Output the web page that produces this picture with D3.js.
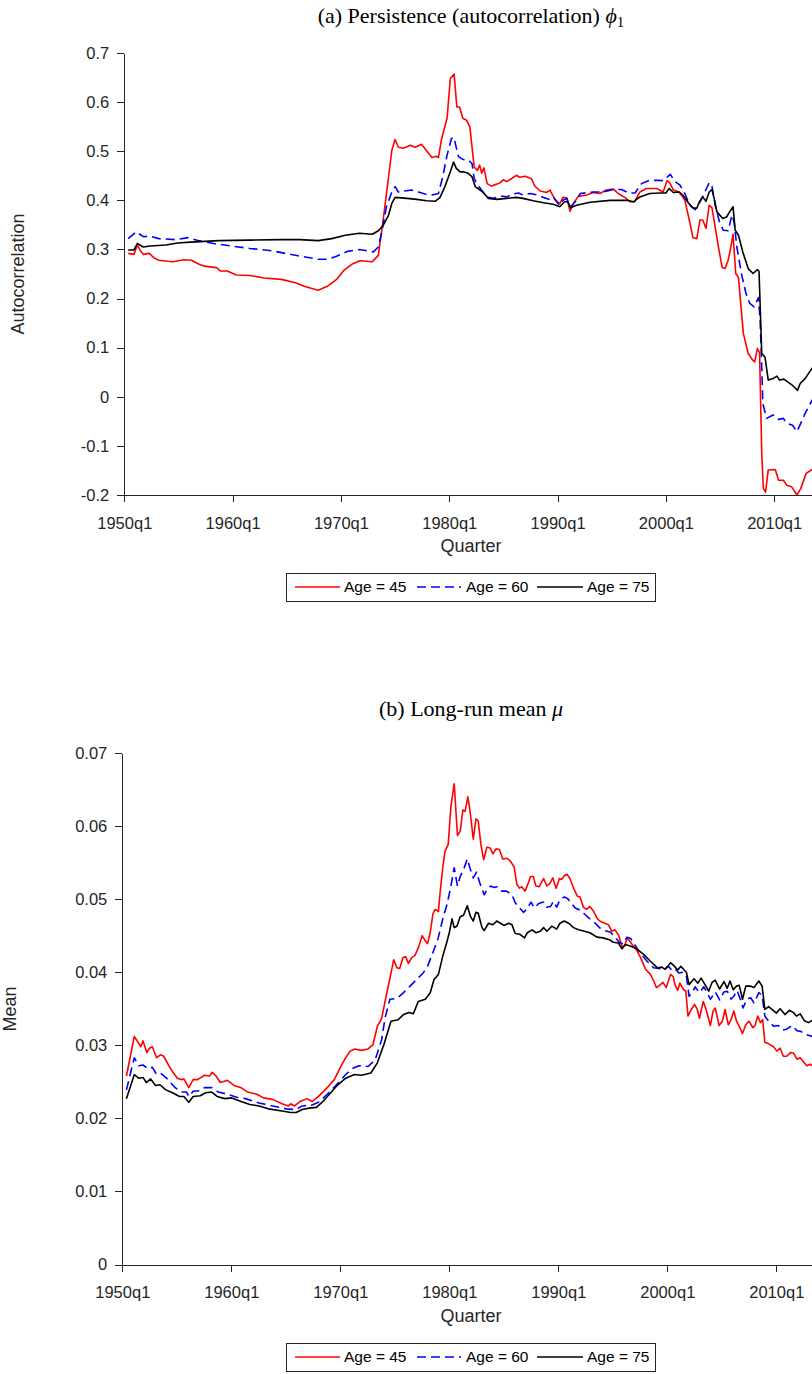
<!DOCTYPE html>
<html><head><meta charset="utf-8">
<script src="https://cdn.jsdelivr.net/npm/d3@7"></script>
<style>body{margin:0;background:#fff}svg{display:block}</style>
</head><body><svg id="chart" width="812" height="1374"></svg>
<script>
// ---------- DATA ----------
const xTickYears = [1950,1960,1970,1980,1990,2000,2010];
const xTickLabels = ["1950q1","1960q1","1970q1","1980q1","1990q1","2000q1","2010q1"];
const phiTicks = [-0.2,-0.1,0,0.1,0.2,0.3,0.4,0.5,0.6,0.7];
const phiTickLabels = ["-0.2","-0.1","0","0.1","0.2","0.3","0.4","0.5","0.6","0.7"];
const muTicks = [0,0.01,0.02,0.03,0.04,0.05,0.06,0.07];
const muTickLabels = ["0","0.01","0.02","0.03","0.04","0.05","0.06","0.07"];
const seriesNames = ["Age = 45","Age = 60","Age = 75"];

// [quarter as decimal year, value]
const phiAge45 = [[1950.36,0.292],[1950.9,0.290],[1951.2,0.309],[1951.5,0.297],[1951.75,0.290],[1952.3,0.292],[1952.8,0.282],[1953.2,0.278],[1954.0,0.276],[1954.5,0.275],[1955.5,0.279],[1956.2,0.278],[1956.8,0.271],[1957.4,0.266],[1958.5,0.263],[1958.9,0.256],[1959.5,0.256],[1960.35,0.248],[1961.6,0.247],[1962.9,0.242],[1964.5,0.239],[1965.8,0.232],[1966.6,0.225],[1967.9,0.217],[1968.75,0.225],[1969.6,0.239],[1970.3,0.258],[1971.1,0.271],[1971.75,0.277],[1972.9,0.275],[1973.45,0.288],[1973.9,0.360],[1974.4,0.448],[1974.7,0.502],[1975.0,0.524],[1975.3,0.508],[1975.75,0.506],[1976.4,0.512],[1976.85,0.508],[1977.45,0.514],[1977.9,0.501],[1978.4,0.487],[1978.8,0.490],[1979.0,0.487],[1979.3,0.526],[1979.8,0.567],[1980.1,0.648],[1980.45,0.657],[1980.7,0.590],[1980.95,0.590],[1981.25,0.567],[1981.6,0.563],[1981.9,0.550],[1982.3,0.468],[1982.6,0.461],[1982.8,0.472],[1983.0,0.455],[1983.2,0.466],[1983.5,0.434],[1983.9,0.429],[1984.4,0.433],[1984.7,0.436],[1985.0,0.442],[1985.3,0.438],[1985.8,0.445],[1986.2,0.451],[1986.5,0.447],[1987.0,0.449],[1987.6,0.444],[1987.9,0.429],[1988.4,0.419],[1989.0,0.416],[1989.3,0.421],[1989.75,0.402],[1990.2,0.393],[1990.5,0.406],[1990.85,0.405],[1991.15,0.378],[1991.45,0.393],[1991.9,0.408],[1992.7,0.411],[1993.3,0.416],[1993.9,0.414],[1994.5,0.421],[1995.15,0.423],[1995.6,0.414],[1996.2,0.406],[1996.7,0.397],[1997.1,0.397],[1997.6,0.417],[1998.2,0.424],[1999.15,0.424],[1999.75,0.417],[2000.1,0.440],[2000.35,0.436],[2000.7,0.421],[2001.2,0.417],[2001.45,0.410],[2001.75,0.400],[2002.1,0.366],[2002.5,0.324],[2002.85,0.322],[2003.15,0.360],[2003.4,0.360],[2003.7,0.343],[2004.0,0.390],[2004.25,0.385],[2004.55,0.346],[2004.85,0.305],[2005.2,0.263],[2005.45,0.261],[2005.75,0.278],[2006.0,0.305],[2006.2,0.331],[2006.45,0.251],[2006.7,0.243],[2007.15,0.129],[2007.6,0.088],[2008.0,0.075],[2008.2,0.071],[2008.45,0.098],[2008.65,0.090],[2008.85,-0.115],[2009.0,-0.187],[2009.2,-0.194],[2009.45,-0.149],[2010.1,-0.148],[2010.4,-0.170],[2010.85,-0.170],[2011.15,-0.180],[2011.6,-0.183],[2012.1,-0.200],[2012.45,-0.187],[2012.95,-0.156],[2013.5,-0.148],[2014.0,-0.140]];
const phiAge60 = [[1950.36,0.322],[1951.1,0.336],[1951.75,0.326],[1952.4,0.327],[1953.2,0.322],[1954.7,0.320],[1955.9,0.324],[1956.8,0.318],[1958.25,0.312],[1959.9,0.307],[1961.6,0.302],[1963.7,0.297],[1965.8,0.288],[1967.9,0.280],[1968.75,0.280],[1969.6,0.286],[1970.6,0.296],[1971.7,0.300],[1973.0,0.295],[1973.45,0.305],[1973.75,0.333],[1974.2,0.387],[1974.7,0.417],[1975.0,0.428],[1975.3,0.417],[1975.9,0.419],[1976.5,0.421],[1977.15,0.417],[1977.75,0.413],[1978.4,0.411],[1979.0,0.414],[1979.4,0.448],[1979.8,0.492],[1980.2,0.526],[1980.45,0.528],[1980.6,0.512],[1980.85,0.489],[1981.3,0.483],[1981.75,0.482],[1982.1,0.475],[1982.3,0.445],[1982.6,0.431],[1982.85,0.425],[1983.2,0.414],[1983.6,0.406],[1984.1,0.404],[1984.7,0.409],[1985.3,0.407],[1985.9,0.413],[1986.4,0.415],[1986.8,0.411],[1987.45,0.414],[1988.1,0.411],[1988.7,0.406],[1989.2,0.402],[1989.6,0.407],[1990.15,0.390],[1990.5,0.400],[1990.85,0.404],[1991.2,0.387],[1991.75,0.400],[1992.1,0.414],[1993.3,0.417],[1994.2,0.417],[1995.15,0.422],[1995.9,0.422],[1996.55,0.415],[1997.15,0.415],[1997.75,0.434],[1998.4,0.440],[1999.15,0.441],[1999.75,0.440],[2000.4,0.453],[2000.85,0.438],[2001.3,0.431],[2001.75,0.414],[2002.2,0.390],[2002.7,0.381],[2003.15,0.397],[2003.6,0.417],[2004.0,0.436],[2004.25,0.430],[2004.55,0.390],[2004.95,0.356],[2005.3,0.339],[2005.75,0.338],[2006.1,0.370],[2006.3,0.356],[2006.55,0.305],[2007.0,0.248],[2007.4,0.210],[2007.75,0.190],[2008.15,0.183],[2008.55,0.202],[2008.7,0.156],[2008.85,0.061],[2008.95,-0.014],[2009.3,-0.044],[2009.9,-0.037],[2010.4,-0.046],[2010.85,-0.044],[2011.15,-0.054],[2011.7,-0.058],[2012.1,-0.071],[2012.45,-0.054],[2012.85,-0.034],[2013.5,-0.007],[2014.0,0.002]];
const phiAge75 = [[1950.36,0.299],[1950.9,0.299],[1951.2,0.312],[1951.75,0.305],[1952.4,0.307],[1953.85,0.309],[1954.9,0.313],[1956.15,0.315],[1958.7,0.318],[1961.6,0.319],[1964.5,0.320],[1966.2,0.320],[1967.9,0.318],[1969.15,0.322],[1970.4,0.329],[1971.7,0.333],[1972.9,0.331],[1973.45,0.338],[1973.9,0.349],[1974.4,0.370],[1974.7,0.394],[1975.0,0.406],[1976.1,0.404],[1977.0,0.402],[1977.9,0.399],[1978.7,0.398],[1979.15,0.406],[1979.6,0.428],[1980.05,0.455],[1980.4,0.478],[1980.65,0.465],[1981.0,0.458],[1981.3,0.458],[1981.75,0.455],[1982.1,0.448],[1982.4,0.428],[1982.85,0.421],[1983.15,0.416],[1983.6,0.404],[1984.4,0.402],[1985.3,0.404],[1986.2,0.406],[1986.8,0.404],[1987.75,0.399],[1988.7,0.395],[1989.6,0.392],[1990.2,0.387],[1990.65,0.397],[1990.95,0.397],[1991.2,0.385],[1991.75,0.390],[1993.0,0.396],[1994.85,0.400],[1996.4,0.400],[1997.0,0.397],[1997.6,0.407],[1998.5,0.414],[1999.45,0.415],[2000.0,0.415],[2000.3,0.424],[2000.7,0.416],[2001.2,0.417],[2001.6,0.410],[2002.1,0.394],[2002.5,0.385],[2002.85,0.384],[2003.1,0.397],[2003.4,0.407],[2003.7,0.398],[2004.0,0.417],[2004.25,0.422],[2004.5,0.400],[2004.7,0.377],[2005.25,0.363],[2005.6,0.366],[2005.9,0.377],[2006.2,0.387],[2006.4,0.339],[2006.7,0.329],[2007.1,0.295],[2007.6,0.261],[2008.05,0.251],[2008.45,0.259],[2008.6,0.255],[2008.85,0.088],[2009.15,0.081],[2009.45,0.034],[2009.9,0.037],[2010.25,0.042],[2010.5,0.034],[2010.9,0.036],[2011.4,0.028],[2011.75,0.022],[2012.15,0.013],[2012.4,0.027],[2012.85,0.037],[2013.5,0.058],[2014.0,0.062]];

const muAge45 = [[1950.38,0.0258],[1951.1,0.0312],[1951.5,0.0303],[1951.7,0.0298],[1951.9,0.0306],[1952.25,0.0290],[1952.5,0.0296],[1952.75,0.0298],[1953.15,0.0283],[1953.5,0.0287],[1953.8,0.0285],[1954.2,0.0274],[1954.6,0.0264],[1955.05,0.0255],[1955.45,0.0253],[1955.65,0.0254],[1956.1,0.0242],[1956.5,0.0253],[1956.9,0.0253],[1957.55,0.0259],[1958.0,0.0258],[1958.25,0.0263],[1958.6,0.0258],[1959.0,0.0249],[1959.65,0.0252],[1960.25,0.0245],[1960.9,0.0242],[1961.5,0.0236],[1962.35,0.0233],[1962.95,0.0228],[1963.8,0.0226],[1964.65,0.0220],[1965.25,0.0217],[1965.45,0.0220],[1965.8,0.0217],[1966.3,0.0223],[1966.95,0.0227],[1967.4,0.0223],[1968.0,0.0230],[1968.8,0.0242],[1969.45,0.0253],[1970.05,0.0271],[1970.5,0.0283],[1970.9,0.0292],[1971.3,0.0295],[1971.95,0.0293],[1972.55,0.0295],[1973.0,0.0301],[1973.4,0.0326],[1973.8,0.0337],[1974.2,0.0367],[1974.5,0.0388],[1974.9,0.0417],[1975.2,0.0406],[1975.45,0.0405],[1975.75,0.0420],[1976.0,0.0421],[1976.25,0.0412],[1976.55,0.0420],[1976.85,0.0423],[1977.2,0.0435],[1977.5,0.0450],[1977.8,0.0443],[1978.0,0.0439],[1978.25,0.0454],[1978.5,0.0480],[1978.7,0.0486],[1979.0,0.0483],[1979.15,0.0508],[1979.4,0.0543],[1979.6,0.0565],[1979.9,0.0575],[1980.15,0.0627],[1980.45,0.0658],[1980.75,0.0587],[1981.0,0.0593],[1981.25,0.0622],[1981.45,0.0620],[1981.7,0.0640],[1981.9,0.0621],[1982.2,0.0582],[1982.45,0.0610],[1982.65,0.0607],[1982.9,0.0575],[1983.15,0.0554],[1983.45,0.0571],[1983.75,0.0570],[1984.0,0.0562],[1984.3,0.0569],[1984.6,0.0568],[1984.9,0.0555],[1985.3,0.0556],[1985.6,0.0552],[1985.95,0.0544],[1986.2,0.0520],[1986.45,0.0515],[1986.65,0.0517],[1986.95,0.0511],[1987.25,0.0522],[1987.45,0.0531],[1987.7,0.0531],[1987.95,0.0518],[1988.25,0.0517],[1988.65,0.0528],[1988.95,0.0518],[1989.2,0.0521],[1989.5,0.0529],[1989.8,0.0515],[1990.1,0.0528],[1990.3,0.0527],[1990.55,0.0532],[1990.8,0.0534],[1991.05,0.0529],[1991.4,0.0515],[1991.75,0.0504],[1992.0,0.0503],[1992.3,0.0489],[1992.6,0.0486],[1992.9,0.0490],[1993.25,0.0483],[1993.55,0.0474],[1993.8,0.0470],[1994.1,0.0468],[1994.6,0.0465],[1994.9,0.0456],[1995.2,0.0458],[1995.55,0.0450],[1995.85,0.0435],[1996.1,0.0436],[1996.3,0.0447],[1996.6,0.0442],[1996.9,0.0435],[1997.2,0.0430],[1997.55,0.0420],[1998.0,0.0404],[1998.45,0.0397],[1998.75,0.0388],[1999.0,0.0379],[1999.3,0.0382],[1999.6,0.0386],[1999.9,0.0379],[2000.3,0.0397],[2000.55,0.0394],[2000.7,0.0383],[2000.95,0.0375],[2001.15,0.0385],[2001.5,0.0376],[2001.7,0.0374],[2001.9,0.0340],[2002.2,0.0349],[2002.5,0.0356],[2002.75,0.0349],[2002.95,0.0337],[2003.3,0.0360],[2003.6,0.0347],[2003.95,0.0327],[2004.2,0.0347],[2004.4,0.0351],[2004.75,0.0327],[2005.05,0.0333],[2005.3,0.0349],[2005.6,0.0328],[2005.85,0.0335],[2006.1,0.0347],[2006.35,0.0333],[2006.6,0.0326],[2006.9,0.0316],[2007.2,0.0328],[2007.5,0.0333],[2007.85,0.0324],[2008.05,0.0327],[2008.3,0.0340],[2008.55,0.0331],[2008.75,0.0335],[2008.95,0.0304],[2009.3,0.0302],[2009.75,0.0298],[2010.05,0.0292],[2010.35,0.0296],[2010.65,0.0285],[2010.95,0.0285],[2011.3,0.0290],[2011.6,0.0289],[2011.9,0.0281],[2012.2,0.0283],[2012.45,0.0278],[2012.8,0.0272],[2013.1,0.0274],[2013.3,0.0272],[2014.0,0.0270]];
const muAge60 = [[1950.38,0.0239],[1951.1,0.0283],[1951.5,0.0272],[1951.9,0.0273],[1952.35,0.0268],[1952.75,0.0270],[1953.15,0.0260],[1953.6,0.0261],[1954.2,0.0253],[1954.85,0.0242],[1955.45,0.0236],[1955.9,0.0236],[1956.1,0.0230],[1956.5,0.0237],[1957.15,0.0238],[1957.55,0.0242],[1958.2,0.0242],[1958.8,0.0236],[1959.65,0.0233],[1960.5,0.0229],[1961.3,0.0227],[1962.55,0.0221],[1963.8,0.0217],[1965.05,0.0213],[1965.95,0.0212],[1966.5,0.0217],[1967.35,0.0218],[1968.0,0.0222],[1968.8,0.0233],[1969.65,0.0246],[1970.5,0.0260],[1971.1,0.0268],[1971.7,0.0272],[1972.55,0.0271],[1973.2,0.0280],[1973.8,0.0308],[1974.1,0.0337],[1974.55,0.0363],[1975.2,0.0364],[1975.8,0.0372],[1976.4,0.0381],[1977.0,0.0390],[1977.6,0.0399],[1978.0,0.0408],[1978.55,0.0429],[1978.95,0.0445],[1979.45,0.0476],[1979.8,0.0493],[1980.15,0.0518],[1980.45,0.0543],[1980.75,0.0518],[1981.0,0.0531],[1981.3,0.0540],[1981.65,0.0555],[1981.95,0.0540],[1982.2,0.0529],[1982.5,0.0537],[1982.8,0.0522],[1983.2,0.0506],[1983.45,0.0513],[1983.8,0.0518],[1984.1,0.0516],[1984.4,0.0517],[1984.8,0.0511],[1985.25,0.0511],[1985.75,0.0506],[1986.05,0.0495],[1986.45,0.0488],[1986.8,0.0482],[1987.1,0.0486],[1987.5,0.0496],[1987.8,0.0488],[1988.2,0.0494],[1988.65,0.0496],[1988.9,0.0489],[1989.3,0.0490],[1989.55,0.0497],[1989.85,0.0489],[1990.15,0.0499],[1990.55,0.0503],[1990.85,0.0501],[1991.15,0.0495],[1991.55,0.0488],[1992.0,0.0485],[1992.45,0.0479],[1992.9,0.0473],[1993.4,0.0467],[1993.85,0.0460],[1994.2,0.0457],[1994.75,0.0455],[1995.05,0.0451],[1995.2,0.0448],[1995.65,0.0440],[1995.95,0.0439],[1996.3,0.0448],[1996.65,0.0446],[1997.3,0.0431],[1997.65,0.0424],[1998.15,0.0415],[1998.75,0.0406],[1999.2,0.0405],[1999.65,0.0403],[2000.1,0.0408],[2000.4,0.0403],[2000.7,0.0405],[2001.05,0.0399],[2001.45,0.0400],[2001.75,0.0395],[2002.0,0.0367],[2002.35,0.0374],[2002.55,0.0380],[2002.95,0.0372],[2003.35,0.0380],[2003.65,0.0372],[2003.95,0.0363],[2004.4,0.0373],[2004.8,0.0362],[2005.2,0.0373],[2005.5,0.0374],[2005.85,0.0363],[2006.1,0.0367],[2006.4,0.0375],[2006.7,0.0363],[2006.95,0.0351],[2007.3,0.0363],[2007.65,0.0365],[2007.95,0.0358],[2008.4,0.0372],[2008.7,0.0368],[2008.95,0.0340],[2009.3,0.0333],[2009.75,0.0326],[2010.2,0.0327],[2010.6,0.0321],[2010.95,0.0322],[2011.45,0.0327],[2011.9,0.0320],[2012.25,0.0319],[2012.65,0.0315],[2013.3,0.0312],[2014.0,0.0310]];
const muAge75 = [[1950.38,0.0227],[1951.1,0.0260],[1951.5,0.0255],[1951.9,0.0256],[1952.2,0.0249],[1952.6,0.0254],[1953.05,0.0245],[1953.45,0.0246],[1954.0,0.0239],[1954.6,0.0235],[1955.25,0.0230],[1955.65,0.0230],[1956.1,0.0222],[1956.5,0.0230],[1957.15,0.0231],[1957.65,0.0235],[1958.2,0.0236],[1958.7,0.0230],[1959.4,0.0227],[1960.05,0.0228],[1960.9,0.0223],[1961.7,0.0219],[1962.55,0.0217],[1963.4,0.0213],[1964.65,0.0210],[1965.45,0.0208],[1965.95,0.0208],[1966.5,0.0212],[1967.15,0.0214],[1967.8,0.0215],[1968.4,0.0223],[1969.0,0.0233],[1969.65,0.0244],[1970.5,0.0255],[1971.3,0.0260],[1971.95,0.0259],[1972.8,0.0262],[1973.4,0.0276],[1974.0,0.0301],[1974.65,0.0333],[1975.3,0.0335],[1975.8,0.0342],[1976.3,0.0345],[1976.7,0.0343],[1977.15,0.0360],[1977.8,0.0363],[1978.25,0.0372],[1978.6,0.0390],[1979.0,0.0397],[1979.4,0.0422],[1979.75,0.0440],[1980.0,0.0454],[1980.25,0.0473],[1980.45,0.0461],[1980.7,0.0463],[1981.0,0.0476],[1981.3,0.0478],[1981.65,0.0491],[1981.95,0.0476],[1982.2,0.0470],[1982.45,0.0482],[1982.65,0.0481],[1983.0,0.0461],[1983.2,0.0457],[1983.6,0.0467],[1984.0,0.0465],[1984.35,0.0470],[1984.7,0.0467],[1985.0,0.0464],[1985.45,0.0467],[1985.75,0.0465],[1986.05,0.0453],[1986.45,0.0452],[1986.9,0.0447],[1987.15,0.0454],[1987.6,0.0458],[1987.95,0.0454],[1988.35,0.0456],[1988.65,0.0461],[1988.95,0.0456],[1989.4,0.0463],[1989.85,0.0459],[1990.15,0.0467],[1990.55,0.0470],[1990.95,0.0467],[1991.4,0.0461],[1991.85,0.0458],[1992.4,0.0456],[1992.9,0.0454],[1993.55,0.0448],[1994.1,0.0447],[1994.75,0.0444],[1995.05,0.0441],[1995.5,0.0440],[1995.85,0.0432],[1996.15,0.0438],[1996.6,0.0436],[1997.2,0.0432],[1997.85,0.0424],[1998.45,0.0415],[1999.1,0.0406],[1999.5,0.0407],[1999.8,0.0404],[2000.1,0.0409],[2000.3,0.0413],[2000.6,0.0409],[2000.95,0.0403],[2001.25,0.0408],[2001.55,0.0403],[2001.75,0.0400],[2002.0,0.0383],[2002.45,0.0391],[2002.8,0.0385],[2003.1,0.0392],[2003.5,0.0382],[2003.8,0.0374],[2004.1,0.0386],[2004.4,0.0389],[2004.8,0.0377],[2005.2,0.0387],[2005.5,0.0378],[2005.75,0.0388],[2006.05,0.0376],[2006.35,0.0381],[2006.6,0.0382],[2006.9,0.0363],[2007.2,0.0381],[2007.6,0.0381],[2007.95,0.0379],[2008.4,0.0388],[2008.7,0.0381],[2008.95,0.0349],[2009.3,0.0353],[2009.6,0.0349],[2010.0,0.0344],[2010.35,0.0350],[2010.8,0.0342],[2011.2,0.0348],[2011.55,0.0345],[2011.85,0.0340],[2012.2,0.0343],[2012.55,0.0334],[2012.95,0.0331],[2013.3,0.0334],[2014.0,0.0330]];

// ---------- STYLE / LAYOUT ----------
const seriesStyles = [
  {color:"#ff0000", dash:null},
  {color:"#0000ff", dash:"9,5"},
  {color:"#000000", dash:null}
];
const AX = "#262626";
const SANS = "'Liberation Sans', Arial, Helvetica, sans-serif";
const SERIF = "'Liberation Serif', 'Times New Roman', serif";

const svg = d3.select("#chart");

function drawPanel(cfg){
  const g = svg.append("g");
  const pxPerYear = (cfg.xb - cfg.xa) / 60;
  const x = d3.scaleLinear().domain([1950, 2016]).range([cfg.xa, cfg.xa + 66*pxPerYear]);
  const y = d3.scaleLinear().domain([cfg.yTicks[0], cfg.yTicks[cfg.yTicks.length-1]]).range([cfg.yBottom, cfg.yTop]);

  const line = d3.line().x(d => x(d[0])).y(d => y(d[1]));
  cfg.series.forEach((s, i) => {
    g.append("path").datum(s)
      .attr("d", line)
      .attr("fill", "none")
      .attr("stroke", seriesStyles[i].color)
      .attr("stroke-width", 1.6)
      .attr("stroke-linejoin", "round")
      .attr("stroke-dasharray", seriesStyles[i].dash);
  });

  const xAxis = d3.axisBottom(x).tickValues(xTickYears)
    .tickFormat((d,i) => xTickLabels[i]).tickSize(7).tickSizeOuter(0).tickPadding(15);
  const gx = g.append("g").attr("transform", `translate(0,${cfg.yBottom})`).call(xAxis);
  const yAxis = d3.axisLeft(y).tickValues(cfg.yTicks)
    .tickFormat((d,i) => cfg.yLabels[i]).tickSize(7).tickSizeOuter(0).tickPadding(8);
  const gy = g.append("g").attr("transform", `translate(${cfg.xa},0)`).call(yAxis);

  [gx, gy].forEach(a => {
    a.select(".domain").attr("stroke", AX).attr("stroke-width", 1).attr("shape-rendering","crispEdges");
    a.selectAll(".tick line").attr("stroke", AX).attr("stroke-width", 1).attr("shape-rendering","crispEdges");
    a.selectAll(".tick text").attr("fill", AX).style("font-family", SANS).style("font-size", "16.5px");
  });

  g.append("text").attr("x", cfg.xlabelX).attr("y", cfg.xlabelY)
    .attr("text-anchor","middle").attr("fill", AX)
    .style("font-family", SANS).style("font-size","18px").text("Quarter");
  g.append("text").attr("transform", `translate(${cfg.ylabelX},${cfg.ylabelY}) rotate(-90)`)
    .attr("text-anchor","middle").attr("fill", AX)
    .style("font-family", SANS).style("font-size","18px").text(cfg.ylabel);

  const t = g.append("text").attr("x", cfg.titleX).attr("y", cfg.titleY)
    .attr("text-anchor","middle").attr("fill","#000")
    .style("font-family", SERIF).style("font-size","22px");
  t.append("tspan").text(cfg.titleText);
  t.append("tspan").style("font-style","italic").text(cfg.titleSym);
  if (cfg.titleSub) t.append("tspan").attr("dy", 4).style("font-size","15px").text(cfg.titleSub);

  const L = cfg.legend;
  const lg = g.append("g");
  lg.append("rect").attr("x", L.x).attr("y", L.y).attr("width", L.w).attr("height", L.h)
    .attr("fill","#fff").attr("stroke", AX).attr("stroke-width",1).attr("shape-rendering","crispEdges");
  const cy = L.y + L.h/2;
  L.items.forEach((it, i) => {
    lg.append("line").attr("x1", it.x1).attr("x2", it.x2).attr("y1", cy).attr("y2", cy)
      .attr("stroke", seriesStyles[i].color).attr("stroke-width", 1.6)
      .attr("stroke-dasharray", seriesStyles[i].dash);
    lg.append("text").attr("x", it.tx).attr("y", cy).attr("dy","0.35em")
      .attr("fill","#000").style("font-family", SANS).style("font-size","15.5px")
      .text(seriesNames[i]);
  });
}

const legendItems = [{x1:295,x2:340,tx:344},{x1:417,x2:461,tx:466},{x1:537,x2:583,tx:587}];

drawPanel({
  xa:124.3, xb:774.2, yTop:53, yBottom:495,
  yTicks: phiTicks, yLabels: phiTickLabels,
  series:[phiAge45, phiAge60, phiAge75],
  xlabelX:471, xlabelY:552, ylabelX:24, ylabelY:274, ylabel:"Autocorrelation",
  titleX:471, titleY:23, titleText:"(a) Persistence (autocorrelation) ", titleSym:"\u03D5", titleSub:"1",
  legend:{x:286.5, y:573, w:368.5, h:28, items:legendItems}
});

drawPanel({
  xa:122.3, xb:776.3, yTop:753, yBottom:1264.5,
  yTicks: muTicks, yLabels: muTickLabels,
  series:[muAge45, muAge60, muAge75],
  xlabelX:471, xlabelY:1322, ylabelX:16, ylabelY:1009, ylabel:"Mean",
  titleX:471, titleY:716, titleText:"(b) Long-run mean ", titleSym:"\u03BC", titleSub:null,
  legend:{x:286.5, y:1343, w:368.5, h:28, items:legendItems}
});
</script></body></html>
